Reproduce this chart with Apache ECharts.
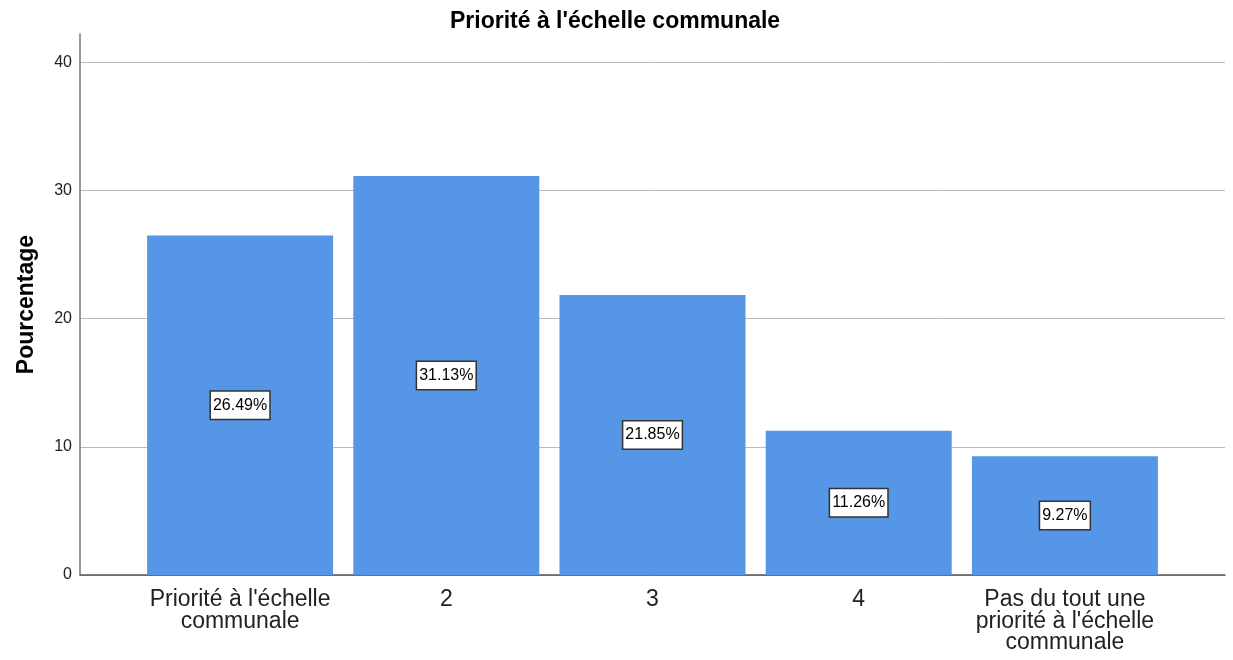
<!DOCTYPE html>
<html>
<head>
<meta charset="utf-8">
<script src="https://cdn.jsdelivr.net/npm/echarts@6/dist/echarts.min.js"></script>
<style>html,body{margin:0;padding:0;background:#fff}#c{width:1233px;height:660px}</style>
</head>
<body>
<div id="c"></div>
<script>
const title = "Priorité à l'échelle communale";
const categories = ["Priorité à l'échelle\ncommunale", "2", "3", "4", "Pas du tout une\npriorité à l'échelle\ncommunale"];
const values = [26.49, 31.13, 21.85, 11.26, 9.27];
const yTicks = [0, 10, 20, 30, 40];
const yName = "Pourcentage";

const chart = echarts.init(document.getElementById('c'));
const font = 'Arial, "Liberation Sans", sans-serif';
const yMax = 42.2;
chart.setOption({
  animation: false,
  title: {
    text: title, left: 445, top: 5,
    textStyle: {fontFamily: font, fontSize: 23, fontWeight: 'bold', color: '#000', lineHeight: 23}
  },
  grid: [
    {left: 80, right: 8, top: 34, bottom: 85},
    {left: 137, right: 65, top: 34, bottom: 85}
  ],
  xAxis: [
    {gridIndex: 0, type: 'value', min: 0, max: 1, show: true,
     axisLine: {show: true, lineStyle: {color: '#555', width: 1.5}},
     axisTick: {show: false}, axisLabel: {show: false}, splitLine: {show: false}},
    {gridIndex: 1, type: 'category', data: categories,
     axisLine: {show: false}, axisTick: {show: false},
     axisLabel: {fontFamily: font, fontSize: 23, color: '#222', lineHeight: 21.5, margin: 14, interval: 0}}
  ],
  yAxis: [
    {gridIndex: 0, type: 'value', min: 0, max: yMax, interval: 10,
     name: yName, nameLocation: 'middle', nameGap: 42, nameRotate: 90,
     nameTextStyle: {fontFamily: font, fontSize: 23, fontWeight: 'bold', color: '#000', lineHeight: 23},
     axisLine: {show: true, lineStyle: {color: '#777', width: 1.5}},
     axisTick: {show: false},
     axisLabel: {fontFamily: font, fontSize: 16, color: '#222', margin: 8,
       formatter: v => yTicks.includes(v) ? String(v) : ''},
     splitLine: {show: true, showMaxLine: false, lineStyle: {color: '#bbb', width: 1}}},
    {gridIndex: 1, type: 'value', min: 0, max: yMax, show: false, splitLine: {show: false}}
  ],
  series: [{
    type: 'bar', xAxisIndex: 1, yAxisIndex: 1,
    data: values, barWidth: 186,
    itemStyle: {color: '#5596E6'},
    label: {
      show: true, position: 'inside',
      formatter: p => p.value.toFixed(2) + '%',
      fontFamily: font, fontSize: 16, lineHeight: 18, color: '#000',
      backgroundColor: '#fff', borderColor: '#333', borderWidth: 1.5,
      padding: [5, 2, 4, 2]
    }
  }]
});
</script>
</body>
</html>
